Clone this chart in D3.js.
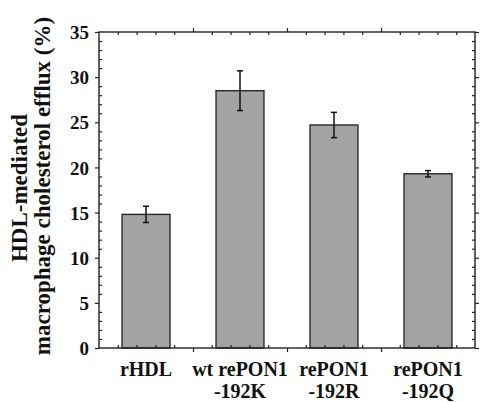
<!DOCTYPE html>
<html>
<head>
<meta charset="utf-8">
<script src="https://cdn.jsdelivr.net/npm/d3@7"></script>
<style>
  body { margin: 0; background: #fff; }
  svg { display: block; }
  text { font-family: "Liberation Serif", "Times New Roman", serif; font-weight: bold; fill: #111; }
</style>
</head>
<body>
<svg id="chart" width="480" height="402"></svg>
<script>
var categories = [["rHDL"], ["wt rePON1", "-192K"], ["rePON1", "-192R"], ["rePON1", "-192Q"]];
var values = [14.8, 28.5, 24.7, 19.3];
var errors = [0.9, 2.2, 1.4, 0.35];
var yTicks = [0, 5, 10, 15, 20, 25, 30, 35];
var titleLines = ["HDL-mediated", "macrophage cholesterol efflux (%)"];

var svg = d3.select("#chart");
var plotLeft = 99, plotRight = 475, plotTop = 32, plotBottom = 348;

var x = d3.scaleLinear().domain([0, 4]).range([plotLeft, plotRight]);
var y = d3.scaleLinear().domain([0, 35]).range([plotBottom, plotTop]);

var minorY = d3.range(0, 36, 1).filter(v => v % 5 !== 0);
var minorX = d3.range(0, 4.01, 0.2).filter(v => Math.abs(v - Math.round(v)) > 0.01);
var majorX = [1, 2, 3];

function styleAxis(g) {
  g.selectAll("path").remove();
  g.selectAll("line").attr("stroke", "#222").attr("stroke-width", 1.2);
}

// bars
var barW = 0.51;
svg.selectAll(".bar")
  .data(values)
  .enter().append("rect")
  .attr("class", "bar")
  .attr("x", (d, i) => x(i + 0.5 - barW / 2))
  .attr("width", x(barW) - x(0))
  .attr("y", d => y(d))
  .attr("height", d => y(0) - y(d))
  .attr("fill", "#a3a3a3")
  .attr("stroke", "#2a2a2a")
  .attr("stroke-width", 1.4);

// error bars
var eb = svg.selectAll(".err")
  .data(values)
  .enter().append("g")
  .attr("class", "err")
  .attr("stroke", "#111")
  .attr("stroke-width", 1.5);
eb.append("line")
  .attr("x1", (d, i) => x(i + 0.5)).attr("x2", (d, i) => x(i + 0.5))
  .attr("y1", (d, i) => y(d + errors[i])).attr("y2", (d, i) => y(d - errors[i]));
eb.append("line")
  .attr("x1", (d, i) => x(i + 0.5) - 3).attr("x2", (d, i) => x(i + 0.5) + 3)
  .attr("y1", (d, i) => y(d + errors[i])).attr("y2", (d, i) => y(d + errors[i]));
eb.append("line")
  .attr("x1", (d, i) => x(i + 0.5) - 3).attr("x2", (d, i) => x(i + 0.5) + 3)
  .attr("y1", (d, i) => y(d - errors[i])).attr("y2", (d, i) => y(d - errors[i]));

// left axis major (outward) with labels
svg.append("g")
  .attr("transform", "translate(" + plotLeft + ",0)")
  .call(d3.axisLeft(y).tickValues(yTicks).tickSize(4).tickPadding(6).tickFormat(d3.format("d")))
  .call(styleAxis)
  .selectAll("text")
  .style("font-size", "19px")
  .attr("dy", "0.35em");
// left minor (inward)
svg.append("g")
  .attr("transform", "translate(" + plotLeft + ",0)")
  .call(d3.axisLeft(y).tickValues(minorY).tickSize(-3).tickFormat(""))
  .call(styleAxis);
// right axis
svg.append("g")
  .attr("transform", "translate(" + plotRight + ",0)")
  .call(d3.axisRight(y).tickValues(yTicks).tickSize(4).tickFormat(""))
  .call(styleAxis);
svg.append("g")
  .attr("transform", "translate(" + plotRight + ",0)")
  .call(d3.axisRight(y).tickValues(minorY).tickSize(-3).tickFormat(""))
  .call(styleAxis);
// bottom axis
svg.append("g")
  .attr("transform", "translate(0," + plotBottom + ")")
  .call(d3.axisBottom(x).tickValues(majorX).tickSize(4).tickFormat(""))
  .call(styleAxis);
svg.append("g")
  .attr("transform", "translate(0," + plotBottom + ")")
  .call(d3.axisBottom(x).tickValues(minorX).tickSize(-3).tickFormat(""))
  .call(styleAxis);
// top axis
svg.append("g")
  .attr("transform", "translate(0," + plotTop + ")")
  .call(d3.axisTop(x).tickValues(majorX).tickSize(4).tickFormat(""))
  .call(styleAxis);
svg.append("g")
  .attr("transform", "translate(0," + plotTop + ")")
  .call(d3.axisTop(x).tickValues(minorX).tickSize(-3).tickFormat(""))
  .call(styleAxis);

// frame
svg.append("rect")
  .attr("x", plotLeft).attr("y", plotTop)
  .attr("width", plotRight - plotLeft).attr("height", plotBottom - plotTop)
  .attr("fill", "none").attr("stroke", "#222").attr("stroke-width", 1.4);

// category labels
var lab = svg.selectAll(".cat")
  .data(categories)
  .enter().append("text")
  .attr("class", "cat")
  .attr("text-anchor", "middle")
  .style("font-size", "20px");
lab.selectAll("tspan")
  .data((d, i) => d.map(t => ({ t: t, i: i })))
  .enter().append("tspan")
  .attr("x", d => x(d.i + 0.5))
  .attr("y", (d, j) => 376 + j * 22)
  .text(d => d.t);

// y title: two lines, same size
var titleX = [27, 50];
var titleY = [188, 186];
svg.selectAll(".ytitle")
  .data(titleLines)
  .enter().append("text")
  .attr("class", "ytitle")
  .attr("text-anchor", "middle")
  .attr("transform", (d, i) => "translate(" + titleX[i] + "," + titleY[i] + ")rotate(-90)")
  .style("font-size", "23px")
  .text(d => d);
</script>
</body>
</html>
